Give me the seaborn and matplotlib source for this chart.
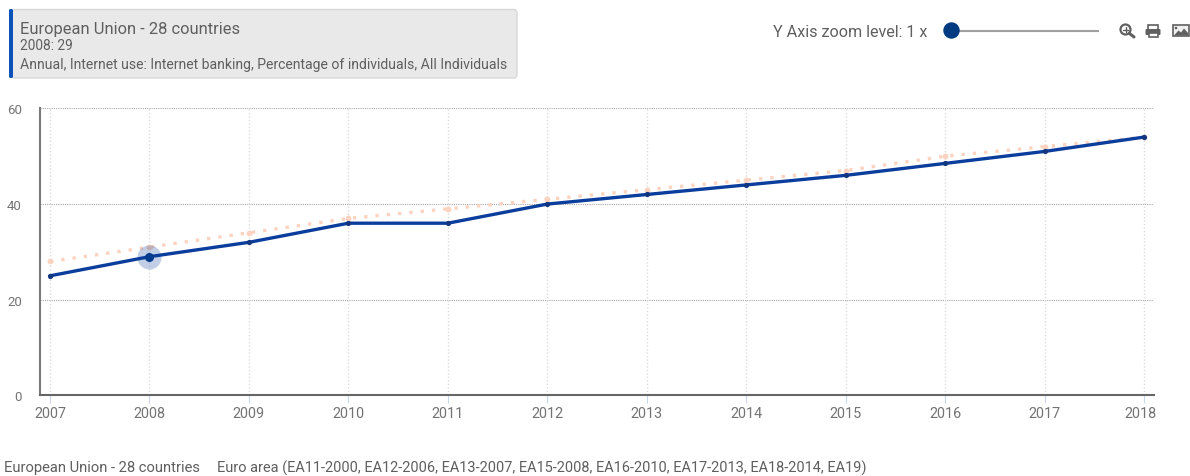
import matplotlib
matplotlib.use('Agg')
import matplotlib.pyplot as plt
import pandas as pd
import seaborn as sns
from matplotlib.patches import Circle, FancyBboxPatch, Polygon, Rectangle
from matplotlib.transforms import ScaledTranslation

years = [2007, 2008, 2009, 2010, 2011, 2012, 2013, 2014, 2015, 2016, 2017, 2018]
eu28 = [25, 29, 32, 36, 36, 40, 42, 44, 46, 48.5, 51, 54]
euro_area = [28, 31, 34, 37, 39, 41, 43, 45, 47, 50, 52, 54]
yticks = [0, 20, 40, 60]
eu_name = 'European Union - 28 countries'
ea_name = 'Euro area (EA11-2000, EA12-2006, EA13-2007, EA15-2008, EA16-2010, EA17-2013, EA18-2014, EA19)'
tip_lines = ['2008: 29', 'Annual, Internet use: Internet banking, Percentage of individuals, All Individuals']
highlight_year = 2008
highlight_value = 29

W, H = 1190, 477
BLUE = '#0b3d9c'
GREY = '#5f5f5f'
PEACH = '#fbd3c0'

sns.set_style('white')
plt.rcParams['font.family'] = ['Roboto', 'DejaVu Sans']

df = pd.DataFrame({'year': years, 'eu': eu28, 'ea': euro_area})

fig = plt.figure(figsize=(W / 100, H / 100), dpi=100)
ax = fig.add_axes([40 / W, 1 - 396.4 / H, 1114 / W, 287 / H])

# vertical and horizontal grid
for y in yticks[1:]:
    ax.axhline(y, color='#a8a8a8', lw=0.8, ls=(0, (1, 1)), zorder=0)
for yr in years:
    ax.axvline(yr, color='#dcdcdc', lw=1, ls=(0, (1, 1.5)), zorder=0)

sns.lineplot(data=df, x='year', y='ea', ax=ax, color=PEACH, lw=2.4,
             linestyle=(0, (1, 2.4)), zorder=2, errorbar=None)
sns.scatterplot(data=df, x='year', y='ea', ax=ax, color=PEACH, s=18,
                linewidth=0, zorder=2)
sns.lineplot(data=df, x='year', y='eu', ax=ax, color=BLUE, lw=2.4, zorder=3, errorbar=None)
sns.scatterplot(data=df, x='year', y='eu', ax=ax, color='#12357f', s=14,
                linewidth=0, zorder=4)
ax.scatter([highlight_year], [highlight_value], s=300, color=BLUE, alpha=0.25,
           linewidth=0, zorder=5)
ax.scatter([highlight_year], [highlight_value], s=42, color='#003a8c', linewidth=0, zorder=6)

ax.set_xlim(2007 - 10 / 99.4, 2018 + 10 / 99.4)
ax.set_ylim(0, 60)
ax.set_xticks(years)
ax.set_yticks(yticks)
ax.set_xlabel('')
ax.set_ylabel('')
ax.tick_params(axis='x', length=6, width=0.8, color='#ccd6eb', labelsize=10.4,
               labelcolor='#737373', pad=1.5, bottom=True)
ax.tick_params(axis='y', length=0, labelsize=9.5, labelcolor='#737373', pad=13)
# last year label is pulled in from the edge
last = ax.get_xticklabels()[-1]
last.set_transform(last.get_transform() + ScaledTranslation(-4 / 100, 0, fig.dpi_scale_trans))
sns.despine(ax=ax)
ax.spines['left'].set_color('#7a7a7a')
ax.spines['left'].set_linewidth(1.5)
ax.spines['bottom'].set_color('#666666')
ax.spines['bottom'].set_linewidth(1.5)

# overlay in pixel coordinates for the page furniture
ov = fig.add_axes([0, 0, 1, 1], zorder=-1)
ov.set_xlim(0, W)
ov.set_ylim(H, 0)
ov.axis('off')
ov.patch.set_alpha(0)

ov.add_patch(FancyBboxPatch((12, 10.5), 505, 68.5, boxstyle='round,pad=0,rounding_size=3',
                            fc='#e9e9e9', ec='#d9d9d9', lw=1))
ov.add_patch(FancyBboxPatch((9, 10), 4, 69, boxstyle='round,pad=0,rounding_size=1.5',
                            fc='#0a52b8', ec='none'))
ov.text(20, 29.5, eu_name, fontsize=11.9, color=GREY, va='center')
ov.text(20, 46.5, tip_lines[0], fontsize=9.9, color=GREY, va='center')
ov.text(20, 64.5, tip_lines[1], fontsize=10.05, color=GREY, va='center')

ov.text(773, 32.5, 'Y Axis zoom level: 1 x', fontsize=11.6, color=GREY, va='center')
ov.plot([951, 1099], [31.5, 31.5], color='#a0a0a0', lw=1.5, solid_capstyle='butt')
ov.add_patch(Circle((951.5, 31.5), 8.2, fc='#003a80', ec='none', zorder=3))

# zoom icon
ov.add_patch(Circle((1125.5, 30.5), 5, fc='none', ec='#606060', lw=1.6))
ov.plot([1129.5, 1134], [34.5, 38], color='#606060', lw=2.2)
ov.plot([1123, 1128], [30.5, 30.5], color='#606060', lw=1)
ov.plot([1125.5, 1125.5], [28, 33], color='#606060', lw=1)
# print icon
ov.add_patch(Rectangle((1148, 26), 10, 4.5, fc='none', ec='#606060', lw=1.2))
ov.add_patch(FancyBboxPatch((1145.5, 30), 15, 6, boxstyle='round,pad=0,rounding_size=1.2',
                            fc='#606060', ec='none'))
ov.add_patch(Rectangle((1148.5, 33.5), 9, 4.5, fc='white', ec='#606060', lw=1.2))
# image icon
ov.add_patch(Rectangle((1173, 26), 15.5, 11, fc='#f0f0f0', ec='#606060', lw=1.2))
ov.add_patch(Polygon([[1174, 36.5], [1178.5, 31.5], [1181, 33.5], [1184, 29.5], [1188, 34], [1188, 36.5]],
                     fc='#606060', ec='none'))
ov.add_patch(Circle((1176, 29), 1.3, fc='#606060', ec='none'))

ov.text(4, 468.5, eu_name, fontsize=10.6, color=GREY, va='center')
ov.text(217, 468.5, ea_name, fontsize=10.47, color=GREY, va='center')

fig.savefig('out.png', dpi=100, facecolor='white')
